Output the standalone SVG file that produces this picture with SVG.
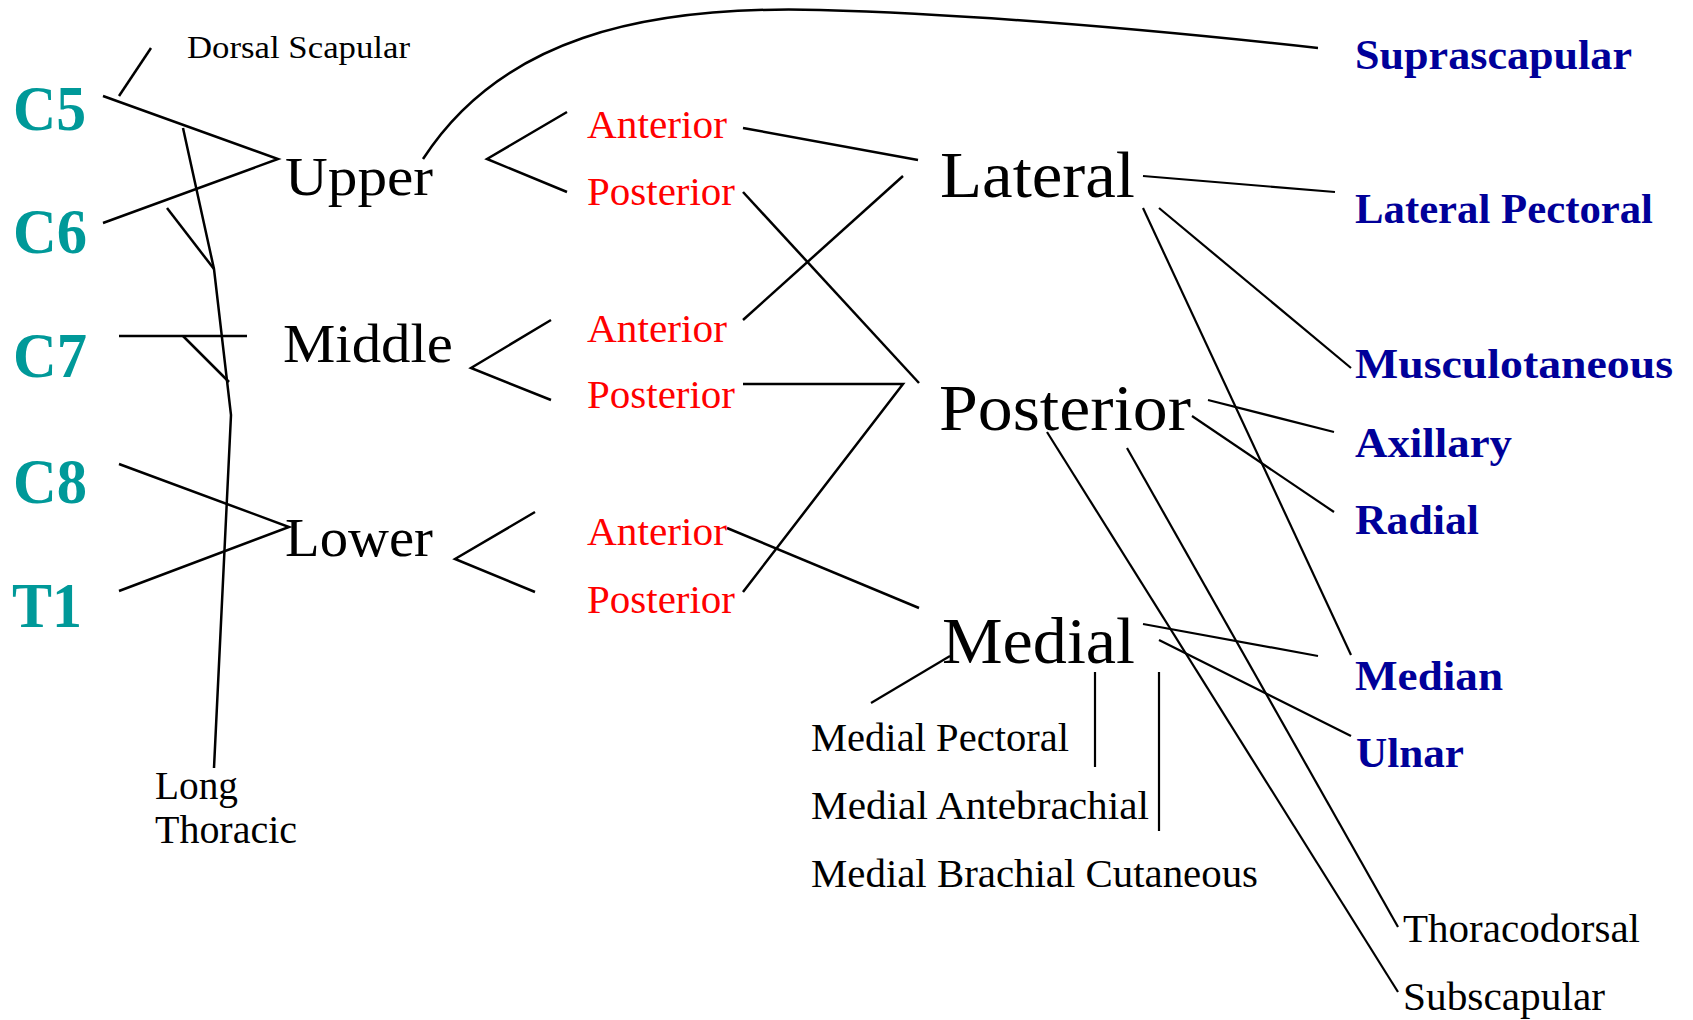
<svg xmlns="http://www.w3.org/2000/svg" width="1693" height="1020" viewBox="0 0 1693 1020">
<style>
  text { font-family: "Liberation Serif", "Times New Roman", serif; }
  .root { font-size: 64px; font-weight: bold; fill: #009999; }
  .trunk { font-size: 54px; fill: #000; }
  .div { font-size: 39px; fill: #ff0000; }
  .cord { font-size: 66px; fill: #000; }
  .nerve { font-size: 43px; font-weight: bold; fill: #000099; }
  .small { font-size: 39px; fill: #000; }
  .tiny { font-size: 32px; fill: #000; }
  .ln { fill: none; stroke: #000; stroke-width: 2.5; stroke-linecap: butt; stroke-linejoin: miter; }
  .ln2 { fill: none; stroke: #000; stroke-width: 2.2; }
</style>
<rect width="1693" height="1020" fill="#fff"/>

<g id="connectors">
  <!-- roots to trunks -->
  <line class="ln" x1="151" y1="48" x2="119" y2="96"/>
  <polyline class="ln" points="103,96 278,159 103,223"/>
  <line class="ln" x1="119" y1="336" x2="247" y2="336"/>
  <polyline class="ln" points="119,464 289,527 119,591"/>
  <!-- long thoracic -->
  <polyline class="ln" points="183,128 214,269 231,415 214,768"/>
  <line class="ln" x1="167" y1="208" x2="214" y2="269"/>
  <line class="ln" x1="183" y1="336" x2="229" y2="382"/>
  <!-- suprascapular -->
  <path class="ln" d="M423,159 C500,40 640,5 820,10 C1000,15 1200,35 1318,48"/>
  <!-- trunk forks -->
  <polyline class="ln" points="567,112 487,159 567,192"/>
  <polyline class="ln" points="551,320 471,368 551,400"/>
  <polyline class="ln" points="535,512 455,559 535,592"/>
  <!-- divisions to cords -->
  <line class="ln" x1="743" y1="128" x2="918" y2="160"/>
  <line class="ln" x1="743" y1="192" x2="919" y2="383"/>
  <line class="ln" x1="743" y1="320" x2="903" y2="176"/>
  <polyline class="ln" points="743,384 903,384 743,592"/>
  <line class="ln" x1="727" y1="528" x2="919" y2="608"/>
  <!-- cords to nerves -->
  <line class="ln2" x1="1143" y1="176" x2="1335" y2="192"/>
  <line class="ln2" x1="1159" y1="208" x2="1351" y2="368"/>
  <line class="ln2" x1="1143" y1="208" x2="1351" y2="655"/>
  <line class="ln2" x1="1208" y1="400" x2="1334" y2="432"/>
  <line class="ln2" x1="1192" y1="416" x2="1334" y2="512"/>
  <line class="ln2" x1="1047" y1="432" x2="1398" y2="992"/>
  <line class="ln2" x1="1127" y1="448" x2="1398" y2="927"/>
  <line class="ln2" x1="1143" y1="624" x2="1318" y2="656"/>
  <line class="ln2" x1="1159" y1="640" x2="1351" y2="736"/>
  <line class="ln2" x1="950" y1="656" x2="871" y2="703"/>
  <line class="ln2" x1="1095" y1="672" x2="1095" y2="767"/>
  <line class="ln2" x1="1159" y1="672" x2="1159" y2="831"/>
</g>

<g id="roots">
  <g id="C5"><text class="root" x="13" y="130" textLength="73" lengthAdjust="spacingAndGlyphs">C5</text></g>
  <g id="C6"><text class="root" x="13" y="253" textLength="74" lengthAdjust="spacingAndGlyphs">C6</text></g>
  <g id="C7"><text class="root" x="13" y="377" textLength="74" lengthAdjust="spacingAndGlyphs">C7</text></g>
  <g id="C8"><text class="root" x="13" y="503" textLength="74" lengthAdjust="spacingAndGlyphs">C8</text></g>
  <g id="T1"><text class="root" x="12" y="627" textLength="70" lengthAdjust="spacingAndGlyphs">T1</text></g>
</g>

<g id="dorsal-scapular"><text class="tiny" x="187" y="58" textLength="223" lengthAdjust="spacingAndGlyphs">Dorsal Scapular</text></g>
<g id="long-thoracic">
  <text class="small" x="155" y="799" textLength="83" lengthAdjust="spacingAndGlyphs">Long</text>
  <text class="small" x="155" y="843" textLength="142" lengthAdjust="spacingAndGlyphs">Thoracic</text>
</g>

<g id="trunks">
  <g id="upper"><text class="trunk" x="285" y="195" textLength="148" lengthAdjust="spacingAndGlyphs">Upper</text></g>
  <g id="middle"><text class="trunk" x="283" y="362" textLength="170" lengthAdjust="spacingAndGlyphs">Middle</text></g>
  <g id="lower"><text class="trunk" x="285" y="556" textLength="148" lengthAdjust="spacingAndGlyphs">Lower</text></g>
</g>

<g id="divisions">
  <g id="upper-anterior"><text class="div" x="587" y="138" textLength="140" lengthAdjust="spacingAndGlyphs">Anterior</text></g>
  <g id="upper-posterior"><text class="div" x="587" y="205" textLength="148" lengthAdjust="spacingAndGlyphs">Posterior</text></g>
  <g id="middle-anterior"><text class="div" x="587" y="342" textLength="140" lengthAdjust="spacingAndGlyphs">Anterior</text></g>
  <g id="middle-posterior"><text class="div" x="587" y="408" textLength="148" lengthAdjust="spacingAndGlyphs">Posterior</text></g>
  <g id="lower-anterior"><text class="div" x="587" y="545" textLength="140" lengthAdjust="spacingAndGlyphs">Anterior</text></g>
  <g id="lower-posterior"><text class="div" x="587" y="613" textLength="148" lengthAdjust="spacingAndGlyphs">Posterior</text></g>
</g>

<g id="cords">
  <g id="lateral"><text class="cord" x="940" y="197" textLength="195" lengthAdjust="spacingAndGlyphs">Lateral</text></g>
  <g id="posterior"><text class="cord" x="939" y="430" textLength="252" lengthAdjust="spacingAndGlyphs">Posterior</text></g>
  <g id="medial"><text class="cord" x="942" y="663" textLength="193" lengthAdjust="spacingAndGlyphs">Medial</text></g>
</g>

<g id="medial-branches">
  <g id="medial-pectoral"><text class="small" x="811" y="751" textLength="258" lengthAdjust="spacingAndGlyphs">Medial Pectoral</text></g>
  <g id="medial-antebrachial"><text class="small" x="811" y="819" textLength="338" lengthAdjust="spacingAndGlyphs">Medial Antebrachial</text></g>
  <g id="medial-brachial-cutaneous"><text class="small" x="811" y="887" textLength="447" lengthAdjust="spacingAndGlyphs">Medial Brachial Cutaneous</text></g>
</g>

<g id="nerves">
  <g id="suprascapular"><text class="nerve" x="1355" y="69" textLength="277" lengthAdjust="spacingAndGlyphs">Suprascapular</text></g>
  <g id="lateral-pectoral"><text class="nerve" x="1355" y="223" textLength="298" lengthAdjust="spacingAndGlyphs">Lateral Pectoral</text></g>
  <g id="musculotaneous"><text class="nerve" x="1355" y="378" textLength="318" lengthAdjust="spacingAndGlyphs">Musculotaneous</text></g>
  <g id="axillary"><text class="nerve" x="1355" y="457" textLength="157" lengthAdjust="spacingAndGlyphs">Axillary</text></g>
  <g id="radial"><text class="nerve" x="1355" y="534" textLength="124" lengthAdjust="spacingAndGlyphs">Radial</text></g>
  <g id="median"><text class="nerve" x="1355" y="690" textLength="148" lengthAdjust="spacingAndGlyphs">Median</text></g>
  <g id="ulnar"><text class="nerve" x="1356" y="767" textLength="108" lengthAdjust="spacingAndGlyphs">Ulnar</text></g>
</g>

<g id="posterior-branches">
  <g id="thoracodorsal"><text class="small" x="1403" y="942" font-size="38" textLength="237" lengthAdjust="spacingAndGlyphs">Thoracodorsal</text></g>
  <g id="subscapular"><text class="small" x="1403" y="1010" font-size="38" textLength="202" lengthAdjust="spacingAndGlyphs">Subscapular</text></g>
</g>
</svg>
